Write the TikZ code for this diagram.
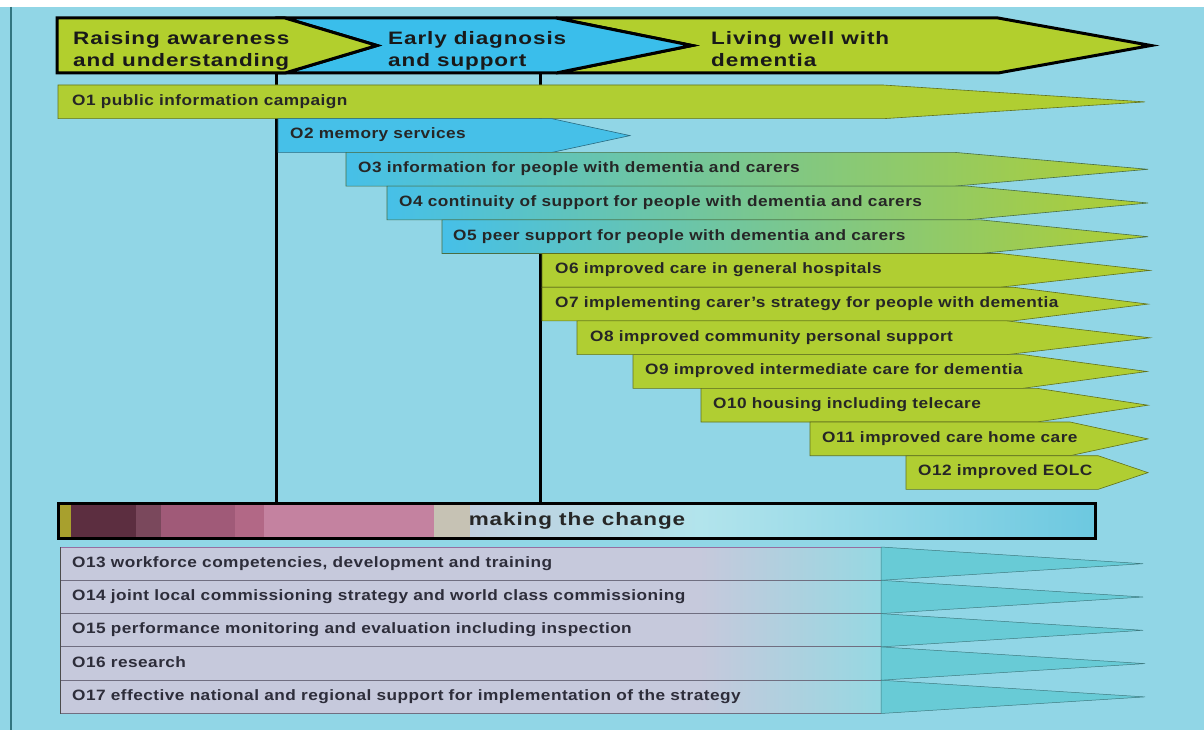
\documentclass[tikz,border=0pt]{standalone}
\usepackage{fontspec}
\setmainfont{Liberation Sans}
\newfontfamily\hdrfont{Liberation Sans}[FakeStretch=1.25,LetterSpace=5]
\newfontfamily\barfont{Liberation Sans}[FakeStretch=1.15,LetterSpace=3]
\definecolor{sky}{RGB}{145,214,230}
\definecolor{frameline}{RGB}{50,118,128}
\definecolor{hgreen}{RGB}{178,207,45}
\definecolor{hblue}{RGB}{58,190,235}
\definecolor{barlime}{RGB}{176,206,50}
\definecolor{barsea}{RGB}{70,192,232}
\definecolor{lav}{RGB}{198,201,220}
\definecolor{aqua}{RGB}{150,216,226}
\definecolor{tealhead}{RGB}{104,203,214}
\definecolor{lowtext}{RGB}{45,45,58}
\definecolor{chgA}{RGB}{168,160,45}
\definecolor{chgB}{RGB}{92,46,64}
\definecolor{chgC}{RGB}{122,72,92}
\definecolor{chgD}{RGB}{160,90,120}
\definecolor{chgE}{RGB}{178,104,134}
\definecolor{chgF}{RGB}{196,130,160}
\definecolor{chgG}{RGB}{198,194,180}
\definecolor{chgH}{RGB}{192,206,222}
\definecolor{chgI}{RGB}{178,228,236}
\definecolor{chgJ}{RGB}{108,200,224}

\begin{document}
\begin{tikzpicture}[x=1pt, y=-1pt,
    hdr/.style={font=\hdrfont\bfseries\fontsize{18}{22}\selectfont, align=left, anchor=base west, inner sep=0pt, text=black!90},
    lbl/.style={font=\barfont\bfseries\fontsize{15}{17}\selectfont, anchor=base west, inner sep=0pt, text=black!85},
    lowlbl/.style={lbl, text=lowtext},
    gbar/.style={fill=barlime, draw=barlime!55!black, line width=0.6pt},
    bbar/.style={fill=barsea, draw=barsea!55!black, line width=0.6pt},
    mbar/.style={left color=barsea, middle color={rgb,255:red,140;green,208;blue,190}, right color=barlime, draw=barsea!40!barlime!55!black, line width=0.6pt},
    thead/.style={fill=tealhead, draw=tealhead!60!black, line width=0.5pt},
    sep/.style={draw={rgb,255:red,112;green,110;blue,128}, line width=1pt},
    conn/.style={line width=3pt}]
    \useasboundingbox (0,0) rectangle (1204,730);
    \fill[sky] (0,0) rectangle (1204,730);
    \fill[white] (0,0) rectangle (1204,7);
    \draw[frameline, line width=2pt] (11,7) -- (11,730);

    \draw[line width=3pt, fill=hgreen] (556,18) -- (998,18) -- (1151,45.5) -- (998,73) -- (556,73) -- (692,45.5) -- cycle;
    \draw[line width=3pt, fill=hblue] (285,18) -- (556,18) -- (692,45.5) -- (556,73) -- (285,73) -- (377,45.5) -- cycle;
    \draw[line width=3pt, fill=hgreen] (57,18) -- (285,18) -- (377,45.5) -- (285,73) -- (57,73) -- cycle;
    \node[hdr] (raise) at (73,66.5) {Raising awareness\\and understanding};
    \node[hdr] (diag) at (388,66.5) {Early diagnosis\\and support};
    \node[hdr] (live) at (711,66.5) {Living well with\\dementia};

    \fill[chgA] (57,502) rectangle (71,537);
    \fill[chgB] (71,502) rectangle (136,537);
    \fill[chgC] (136,502) rectangle (161,537);
    \fill[chgD] (161,502) rectangle (235,537);
    \fill[chgE] (235,502) rectangle (264,537);
    \fill[chgF] (264,502) rectangle (434,537);
    \fill[chgG] (434,502) rectangle (470,537);
    \shade[left color=chgH, right color=chgI] (470,502) rectangle (700,537);
    \shade[left color=chgI, right color=chgJ] (700,502) rectangle (1097,537);
    \node[draw, line width=3pt, minimum width=1037pt, minimum height=35pt, inner sep=0pt,
          font=\hdrfont\bfseries\fontsize{18}{20}\selectfont, text=black!85] (change) at (577,521) {making the change};

    \coordinate (t1) at (276.5,73);
    \coordinate (t2) at (540.5,73);
    \draw[conn] (t1) -- (t1 |- change.north);
    \draw[conn] (t2) -- (t2 |- change.north);

    \draw[gbar] (58,85) -- (883,85) -- (1145,101.9) -- (883,118.7) -- (58,118.7) -- cycle;
    \node[lbl] (o1) at (72,105.2) {O1 public information campaign};
    \draw[bbar] (278,118.7) -- (552,118.7) -- (630,135.6) -- (552,152.4) -- (278,152.4) -- cycle;
    \node[lbl] (o2) at (290,138.9) {O2 memory services};
    \draw[mbar] (346,152.4) -- (955,152.4) -- (1148,169.3) -- (955,186.1) -- (346,186.1) -- cycle;
    \node[lbl] (o3) at (358,172.6) {O3 information for people with dementia and carers};
    \draw[mbar] (387,186.1) -- (967,186.1) -- (1148,203) -- (967,219.8) -- (387,219.8) -- cycle;
    \node[lbl] (o4) at (399,206.3) {O4 continuity of support for people with dementia and carers};
    \draw[mbar] (442,219.8) -- (980,219.8) -- (1148,236.7) -- (980,253.5) -- (442,253.5) -- cycle;
    \node[lbl] (o5) at (453,240) {O5 peer support for people with dementia and carers};
    \draw[gbar] (542,253.5) -- (1000,253.5) -- (1150,270.4) -- (1000,287.2) -- (542,287.2) -- cycle;
    \node[lbl] (o6) at (555,273.7) {O6 improved care in general hospitals};
    \draw[gbar] (542,287.2) -- (1013,287.2) -- (1148,304.1) -- (1013,320.9) -- (542,320.9) -- cycle;
    \node[lbl] (o7) at (555,307.4) {O7 implementing carer’s strategy for people with dementia};
    \draw[gbar] (577,320.9) -- (1007,320.9) -- (1150,337.8) -- (1007,354.6) -- (577,354.6) -- cycle;
    \node[lbl] (o8) at (590,341.1) {O8 improved community personal support};
    \draw[gbar] (633,354.6) -- (1023,354.6) -- (1147,371.5) -- (1023,388.3) -- (633,388.3) -- cycle;
    \node[lbl] (o9) at (645,374.8) {O9 improved intermediate care for dementia};
    \draw[gbar] (701,388.3) -- (1037,388.3) -- (1148,405.2) -- (1037,422) -- (701,422) -- cycle;
    \node[lbl] (o10) at (713,408.5) {O10 housing including telecare};
    \draw[gbar] (810,422) -- (1070,422) -- (1148,438.9) -- (1070,455.7) -- (810,455.7) -- cycle;
    \node[lbl] (o11) at (822,442.2) {O11 improved care home care};
    \draw[gbar] (906,455.7) -- (1098,455.7) -- (1148,472.6) -- (1098,489.4) -- (906,489.4) -- cycle;
    \node[lbl] (o12) at (918,475.9) {O12 improved EOLC};

    \fill[lav] (60,547) rectangle (700,713.5);
    \shade[left color=lav, right color=aqua] (700,547) rectangle (881,713.5);
    \draw[thead] (881,547) -- (1143,563.7) -- (881,580.3) -- cycle;
    \draw[thead] (881,580.3) -- (1143,597) -- (881,613.6) -- cycle;
    \draw[thead] (881,613.6) -- (1143,630.3) -- (881,646.9) -- cycle;
    \draw[thead] (881,646.9) -- (1145,663.6) -- (881,680.2) -- cycle;
    \draw[thead] (881,680.2) -- (1145,696.9) -- (881,713.5) -- cycle;
    \draw[sep, draw={rgb,255:red,150;green,110;blue,160}] (60,547) -- (881,547);
    \draw[sep] (60,580.3) -- (881,580.3);
    \draw[sep] (60,613.6) -- (881,613.6);
    \draw[sep] (60,646.9) -- (881,646.9);
    \draw[sep] (60,680.2) -- (881,680.2);
    \draw[sep] (60,713.5) -- (881,713.5);
    \draw[sep, draw=black!70] (60,547) -- (60,713.5);
    \node[lowlbl] (o13) at (72,567.2) {O13 workforce competencies, development and training};
    \node[lowlbl] (o14) at (72,600.5) {O14 joint local commissioning strategy and world class commissioning};
    \node[lowlbl] (o15) at (72,633.8) {O15 performance monitoring and evaluation including inspection};
    \node[lowlbl] (o16) at (72,667.1) {O16 research};
    \node[lowlbl] (o17) at (72,700.4) {O17 effective national and regional support for implementation of the strategy};
\end{tikzpicture}
\end{document}
